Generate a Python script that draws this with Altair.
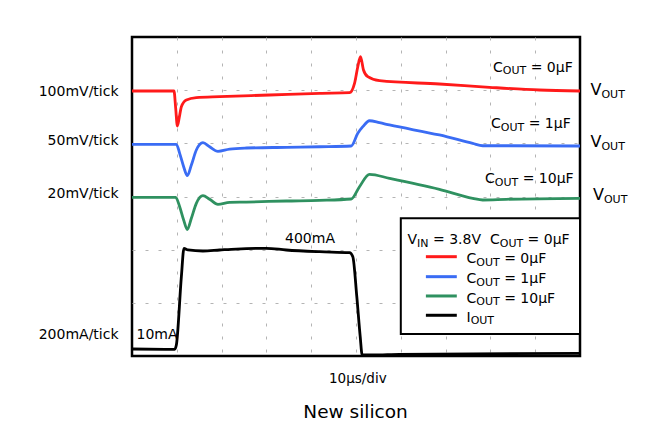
import altair as alt
import pandas as pd

# Oscilloscope traces: time in microseconds (10 us/div, 10 div), level in divisions (0..6)
red_t = [0, 9.37, 9.75, 10.12, 10.53, 11.02, 12.13, 14.36, 19.56, 30.71, 41.86, 48.55, 49.67, 50.4,
         51.0, 51.67, 52.63, 55.24, 68.62, 79.77, 90.92, 100]
red_v = [4.984, 4.984, 4.664, 4.326, 4.476, 4.689, 4.815, 4.858, 4.877, 4.909, 4.941, 4.952, 5.129,
         5.441, 5.629, 5.379, 5.253, 5.178, 5.116, 5.054, 5.003, 4.984]

blue_t = [0, 9.9, 10.64, 11.53, 12.35, 13.25, 14.36, 15.83, 17.33, 19.18, 21.79, 25.51, 34.43, 41.86,
          48.93, 50.4, 51.52, 53.01, 55.24, 57.47, 68.62, 76.05, 78.28, 83.5, 100]
blue_v = [3.982, 3.982, 3.812, 3.56, 3.391, 3.592, 3.874, 4.012, 3.936, 3.85, 3.893, 3.912, 3.925,
          3.936, 3.95, 4.188, 4.313, 4.425, 4.388, 4.345, 4.157, 4.0, 3.955, 3.955, 3.95]

green_t = [0, 9.75, 10.64, 11.53, 12.35, 13.25, 14.36, 15.83, 17.33, 19.18, 21.79, 25.51, 34.43, 41.86,
           48.93, 50.78, 53.01, 57.47, 68.62, 76.05, 78.28, 83.5, 100]
green_v = [2.985, 2.985, 2.808, 2.558, 2.379, 2.59, 2.872, 3.015, 2.947, 2.853, 2.891, 2.896, 2.915,
           2.928, 2.953, 3.184, 3.417, 3.342, 3.135, 2.966, 2.934, 2.947, 2.966]

black_t = [0, 9.52, 9.9, 11.02, 11.6, 12.49, 15.83, 19.56, 23.28, 29.97, 34.43, 41.86, 48.55, 49.29,
           50.18, 50.94, 51.38, 53.75, 59.7, 100]
black_v = [0.132, 0.126, 0.207, 1.491, 2.026, 1.994, 1.975, 1.994, 2.012, 2.026, 1.994, 1.962, 1.943,
           1.868, 1.115, 0.363, 0.019, 0.019, 0.032, 0.051]

series_names = ["COUT = 0uF", "COUT = 1uF", "COUT = 10uF", "IOUT"]
series_colors = ["#ff1a1a", "#3a6cf4", "#2f9160", "#000000"]

grid_x = [10, 20, 30, 40, 50, 60, 70, 80, 90]
grid_y = [1, 2, 3, 4, 5]

rows = []
for name, ts, vs in zip(series_names, [red_t, blue_t, green_t, black_t],
                        [red_v, blue_v, green_v, black_v]):
    for t, v in zip(ts, vs):
        rows.append({"series": name, "t": t, "v": v})
traces = pd.DataFrame(rows)

FONT = "DejaVu Sans"
# approximate DejaVu Sans advance widths (em)
ADV = {" ": 0.318, "=": 0.838, ".": 0.318, "C": 0.698, "O": 0.787, "U": 0.732, "T": 0.611,
       "V": 0.684, "I": 0.295, "N": 0.748, "\u00b5": 0.636, "F": 0.575}
for d in "0123456789":
    ADV[d] = 0.636
PX_PER_T = 448 / 100.0


def text_width(s, fs):
    return sum(ADV.get(c, 0.6) for c in s) * fs


def rich(t0, v0, parts):
    out = []
    x = t0
    for text, fs, sub in parts:
        lead = len(text) - len(text.lstrip(" "))
        x += lead * ADV[" "] * fs / PX_PER_T
        body = text.strip(" ")
        out.append({"t": x, "v": v0, "text": body, "fs": fs, "sub": sub})
        x += text_width(text[lead:], fs) / PX_PER_T
    return out


mu = "\u00b5"
rich_rows = []
# trace labels
rich_rows += rich(80.58, 5.347, [("C", 14, 0), ("OUT", 11, 1), (" = 0" + mu + "F", 14, 0)])
rich_rows += rich(80.13, 4.283, [("C", 14, 0), ("OUT", 11, 1), (" = 1" + mu + "F", 14, 0)])
rich_rows += rich(78.79, 3.248, [("C", 14, 0), ("OUT", 11, 1), (" = 10" + mu + "F", 14, 0)])
for tv in [(102.34, 4.909), (102.34, 3.925), (102.9, 2.934)]:
    rich_rows += rich(tv[0], tv[1], [("V", 16, 0), ("OUT", 11, 1)])
# legend title
rich_rows += rich(61.5, 2.101, [("V", 14, 0), ("IN", 11, 1), (" = 3.8V", 14, 0), ("  C", 14, 0),
                                ("OUT", 11, 1), (" = 0" + mu + "F", 14, 0)])
# legend entries
legend_text_v = [1.744, 1.367, 1.003, 0.645]
legend_vals = ["0", "1", "10"]
for val, vv in zip(legend_vals, legend_text_v[:3]):
    rich_rows += rich(74.67, vv, [("C", 14, 0), ("OUT", 11, 1), (" = " + val + mu + "F", 14, 0)])
rich_rows += rich(74.67, legend_text_v[3], [("I", 14, 0), ("OUT", 11, 1)])
rich_df = pd.DataFrame(rich_rows)

legend_line_v = [1.868, 1.492, 1.129, 0.766]
legend_lines = pd.DataFrame({"t": [65.6] * 4, "t2": [72.5] * 4, "v": legend_line_v,
                             "series": series_names})
legend_box = pd.DataFrame({"t": [60.0], "t2": [100.0], "v": [0.414], "v2": [2.59]})

left_labels = pd.DataFrame({"t": [-3.0] * 4, "v": [4.896, 3.969, 2.966, 0.320],
                            "text": ["100mV/tick", "50mV/tick", "20mV/tick", "200mA/tick"]})

xs = alt.Scale(domain=[0, 100], nice=False, zero=False)
ys = alt.Scale(domain=[0, 6], nice=False, zero=False)
X = alt.X("t:Q", scale=xs, axis=alt.Axis(values=grid_x, grid=True, labels=False, ticks=False,
                                          domain=False, title=None, gridDash=[3, 10],
                                          gridColor="#b4b4b4", gridWidth=1))
Y = alt.Y("v:Q", scale=ys, axis=alt.Axis(values=grid_y, grid=True, labels=False, ticks=False,
                                          domain=False, title=None, gridDash=[3, 10],
                                          gridColor="#b4b4b4", gridWidth=1))
color = alt.Color("series:N", scale=alt.Scale(domain=series_names, range=series_colors), legend=None)

lines = alt.Chart(traces).mark_line(strokeWidth=2.8, strokeJoin="round",
                                    interpolate="monotone").encode(
    x=X, y=Y, color=color, detail="series:N")

box = alt.Chart(legend_box).mark_rect(fill="white", stroke="black", strokeWidth=2).encode(
    x=X, x2="t2:Q", y=Y, y2="v2:Q")

leg_lines = alt.Chart(legend_lines).mark_rule(strokeWidth=3).encode(
    x=X, x2="t2:Q", y=Y, color=color)

main_txt = alt.Chart(rich_df).transform_filter("datum.sub == 0").mark_text(
    align="left", baseline="alphabetic", font=FONT, color="black").encode(
    x=X, y=Y, text="text:N", size=alt.Size("fs:Q", scale=None, legend=None))
sub_txt = alt.Chart(rich_df).transform_filter("datum.sub == 1").mark_text(
    align="left", baseline="alphabetic", font=FONT, color="black", dy=2.5).encode(
    x=X, y=Y, text="text:N", size=alt.Size("fs:Q", scale=None, legend=None))

left_txt = alt.Chart(left_labels).mark_text(
    align="right", baseline="alphabetic", font=FONT, fontSize=14, color="black").encode(
    x=X, y=Y, text="text:N")

ann = pd.DataFrame({"t": [1.0], "v": [0.320], "text": ["10mA"]})
ann_txt = alt.Chart(ann).mark_text(align="left", baseline="alphabetic", font=FONT, fontSize=14,
                                   color="black").encode(x=X, y=Y, text="text:N")
ann2 = pd.DataFrame({"t": [39.73], "v": [2.12], "text": ["400mA"]})
ann2_txt = alt.Chart(ann2).mark_text(align="center", baseline="alphabetic", font=FONT, fontSize=14,
                                     color="black").encode(x=X, y=Y, text="text:N")
xlab = pd.DataFrame({"t": [50.4], "v": [-0.513], "text": ["10" + mu + "s/div"]})
xlab_txt = alt.Chart(xlab).mark_text(align="center", baseline="alphabetic", font=FONT, fontSize=13.5,
                                     color="black").encode(x=X, y=Y, text="text:N")
title = pd.DataFrame({"t": [49.9], "v": [-1.17], "text": ["New silicon"]})
title_txt = alt.Chart(title).mark_text(align="center", baseline="alphabetic", font=FONT,
                                       fontSize=18.5, color="black").encode(x=X, y=Y, text="text:N")

chart = alt.layer(lines, box, leg_lines, main_txt, sub_txt, left_txt, ann_txt, ann2_txt,
                  xlab_txt, title_txt).properties(
    width=448, height=319,
    autosize=alt.AutoSizeParams(type="none"),
    padding={"left": 124, "top": 29, "right": 76, "bottom": 67},
).configure_view(stroke="black", strokeWidth=2.5)

chart.save("out.html", embed_options={"renderer": "svg", "actions": False})
